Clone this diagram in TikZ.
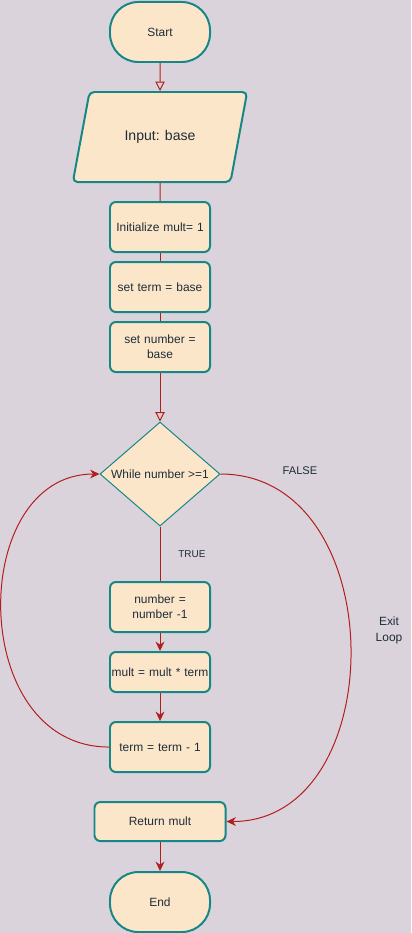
\documentclass[tikz,border=0pt]{standalone}
\usepackage{fontspec}
\setmainfont{Liberation Sans}
\usetikzlibrary{arrows.meta, positioning, shapes.geometric, shapes.misc}
\definecolor{bgcol}{RGB}{219,211,219}
\definecolor{boxfill}{RGB}{252,230,201}
\definecolor{boxline}{RGB}{22,135,135}
\definecolor{flowred}{RGB}{178,30,30}
\definecolor{txtcol}{RGB}{30,45,58}

\begin{document}
\begin{tikzpicture}[x=0.03cm, y=-0.03cm, >={Stealth[length=8pt, width=7.5pt, inset=2.5pt]}, flow/.style={draw=flowred, line width=0.85pt}, every node/.style={font=\fontsize{10.2}{12.5}\selectfont, text=txtcol}]
    % Define styles for terminals, process boxes, input and decision
    \tikzstyle{terminal} = [draw=boxline, fill=boxfill, rectangle, rounded corners=0.85cm, minimum width=3cm, minimum height=1.8cm, line width=1.7pt]
    \tikzstyle{process} = [draw=boxline, fill=boxfill, rectangle, rounded corners=5pt, minimum width=3cm, minimum height=1.5cm, line width=1.7pt, text width=2.9cm, inner xsep=0.05cm, align=center]
    \tikzstyle{io} = [draw=boxline, fill=boxfill, trapezium, trapezium left angle=66, trapezium right angle=114, trapezium stretches=true, minimum width=5.25cm, minimum height=2.7cm, rounded corners=4pt, line width=1.7pt, font=\fontsize{12}{14}\selectfont]
    \tikzstyle{decision} = [draw=boxline, fill=boxfill, diamond, aspect=1.15, minimum width=3.6cm, minimum height=3.12cm, inner sep=0pt, line width=0.85pt]
    \tikzstyle{openarrow} = [-{Triangle[open, length=8pt, width=8pt]}]

    % Background
    \useasboundingbox (0,0) rectangle (411,933);
    \fill[bgcol] (0,0) rectangle (411,933);

    % Nodes placement
    \node [terminal] (start) at (160,32) {Start};
    \node [io, below of=start, node distance=3.15cm] (input) {Input: base};
    \node [process, below of=input, node distance=2.7cm] (init) {Initialize mult= 1};
    \node [process, below of=init, node distance=1.8cm] (setterm) {set term = base};
    \node [process, below of=setterm, node distance=1.8cm] (setnum) {set number =\\base};
    \node [decision, below of=setnum, node distance=3.81cm] (while) {While number >=1};
    \node [process, below of=while, node distance=3.99cm] (decnum) {number =\\number -1};
    \node [process, below of=decnum, node distance=1.95cm, minimum height=1.2cm] (mult) {mult = mult * term};
    \node [process, below of=mult, node distance=2.25cm] (decterm) {term = term - 1};
    \node [process, below of=decterm, node distance=2.235cm, minimum width=3.93cm, minimum height=1.17cm, text width=3.8cm] (ret) {Return mult};
    \node [terminal, below of=ret, node distance=2.415cm] (end) {End};

    % Draw edges
    \draw[flow, openarrow] (start) -- (input);
    \draw[flow] (input) -- (init);
    \draw[flow] (init) -- (setterm);
    \draw[flow] (setterm) -- (setnum);
    \draw[flow, openarrow] (setnum) -- (while);
    \draw[flow] (while) -- node[right=0.42cm, font=\fontsize{8.5}{10}\selectfont] {TRUE} (decnum);
    \draw[flow, ->] (decnum) -- (mult);
    \draw[flow, ->] (mult) -- (decterm);
    \draw[flow, ->] (decterm.west) .. controls +(-142,0) and +(-132,0) .. (while.west); % loop back
    \draw[flow, ->] (while.east) .. controls +(172,0) and +(166,0) .. (ret.east); % exit
    \draw[flow, ->] (ret) -- (end);

    % Labels of the loop exit
    \node [right of=while, node distance=4.2cm, yshift=0.09cm, font=\fontsize{9.5}{11}\selectfont] (falselabel) {FALSE};
    \node [align=center, font=\fontsize{10.2}{13.6}\selectfont] (exitlabel) at (389,630) {Exit\\Loop};
\end{tikzpicture}
\end{document}
